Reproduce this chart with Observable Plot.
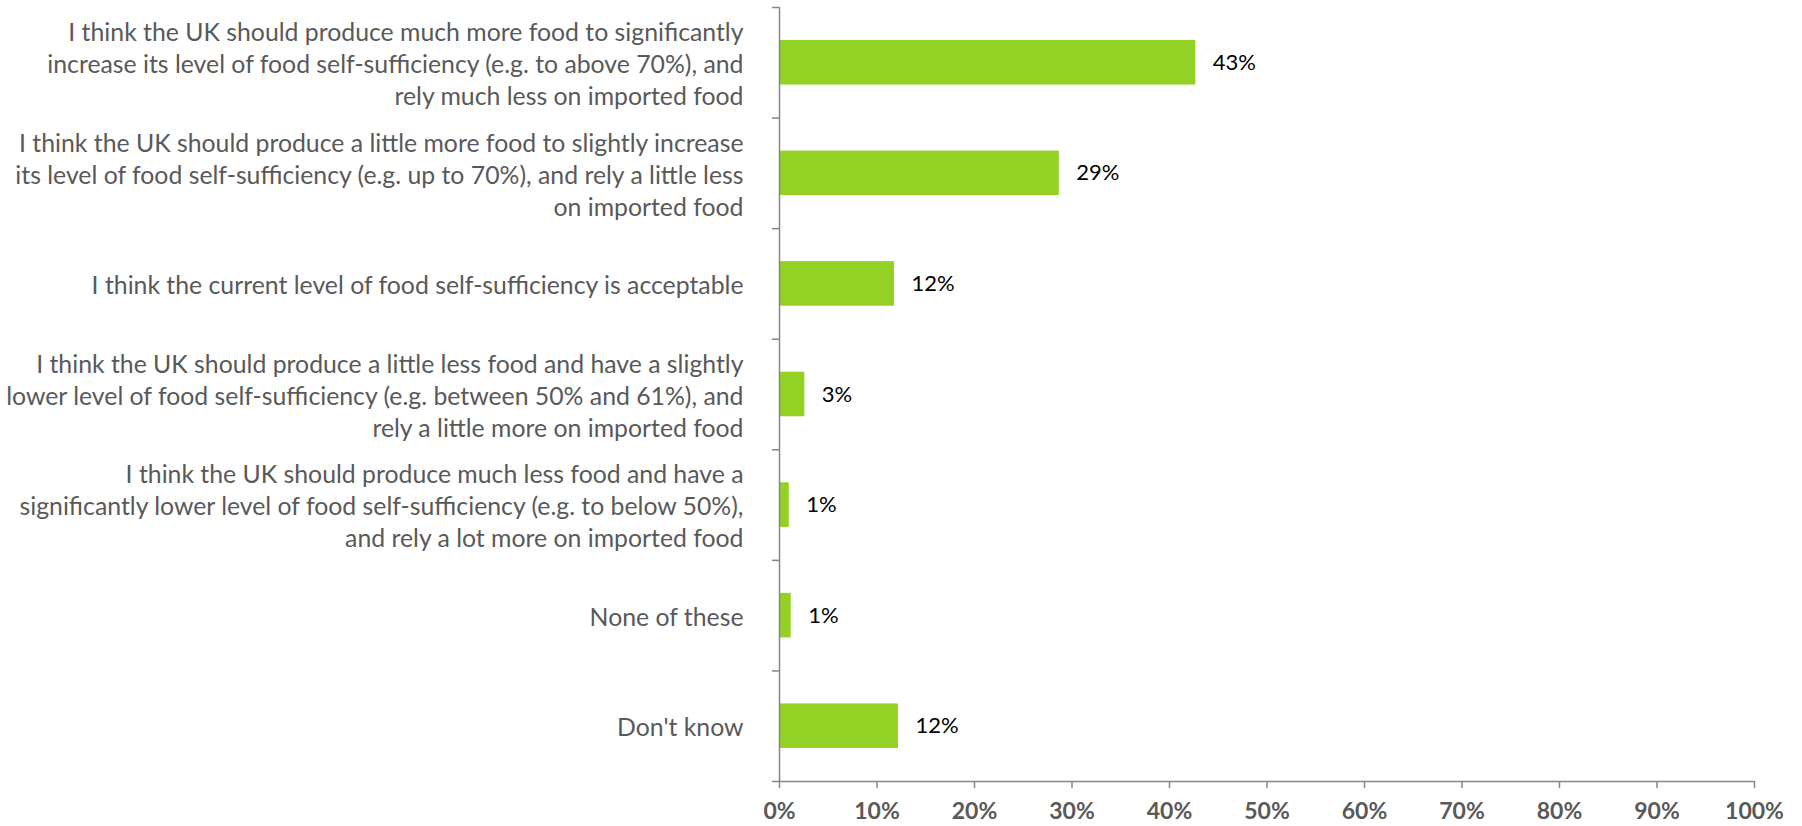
<!DOCTYPE html>
<html>
<head>
<meta charset="utf-8">
<script src="https://cdn.jsdelivr.net/npm/d3@7"></script>
<script src="https://cdn.jsdelivr.net/npm/@observablehq/plot@0.6"></script>
<style>
  html, body { margin: 0; padding: 0; background: #fff; }
  #chart svg { display: block; }
</style>
</head>
<body>
<div id="chart"></div>
<script>
const categories = [
  "I think the UK should produce much more food to significantly\nincrease its level of food self-sufficiency (e.g. to above 70%), and\nrely much less on imported food",
  "I think the UK should produce a little more food to slightly increase\nits level of food self-sufficiency (e.g. up to 70%), and rely a little less\non imported food",
  "I think the current level of food self-sufficiency is acceptable",
  "I think the UK should produce a little less food and have a slightly\nlower level of food self-sufficiency (e.g. between 50% and 61%), and\nrely a little more on imported food",
  "I think the UK should produce much less food and have a\nsignificantly lower level of food self-sufficiency (e.g. to below 50%),\nand rely a lot more on imported food",
  "None of these",
  "Don't know"
];
const values = [42.7, 28.7, 11.8, 2.6, 1.0, 1.2, 12.2];
const valueLabels = ["43%", "29%", "12%", "3%", "1%", "1%", "12%"];
const xTicks = [0, 10, 20, 30, 40, 50, 60, 70, 80, 90, 100];

const rows = categories.map((c, i) => ({i, category: c, value: values[i], label: valueLabels[i]}));
const bounds = d3.range(categories.length + 1);

const font = "Lato, 'Open Sans', sans-serif";

const chart = Plot.plot({
  width: 1802,
  height: 826,
  marginLeft: 779,
  marginRight: 48,
  marginTop: 7,
  marginBottom: 45,
  style: {fontFamily: font, background: "#fff"},
  x: {domain: [0, 100]},
  y: {domain: [0, categories.length], reverse: true},
  marks: [
    Plot.rectX(rows, {
      x1: () => 0, x2: "value",
      y1: "i", y2: d => d.i + 1,
      insetTop: 33, insetBottom: 33,
      fill: "#94d125"
    }),
    Plot.ruleX([0], {stroke: "#868686", strokeWidth: 1.5}),
    Plot.ruleY([categories.length], {stroke: "#868686", strokeWidth: 1.5}),
    Plot.axisY({
      ticks: bounds, tickSize: 7, tickFormat: () => "",
      stroke: "#868686", strokeWidth: 1.5, label: null
    }),
    Plot.axisX({
      ticks: xTicks, tickSize: 7, tickPadding: 14,
      tickFormat: d => d + "%",
      stroke: "#868686", strokeWidth: 1.5,
      fill: "#595959", fontSize: 23, fontWeight: "bold", label: null
    }),
    Plot.text(rows, {
      x: () => 0, y: d => d.i + 0.5, text: "category",
      textAnchor: "end", dx: -36, lineHeight: 1.29,
      fontSize: 24.8, fill: "#595959"
    }),
    Plot.text(rows, {
      x: "value", y: d => d.i + 0.5, text: "label",
      textAnchor: "start", dx: 17,
      fontSize: 22, fill: "#000"
    })
  ]
});
document.getElementById("chart").append(chart);
</script>
</body>
</html>
